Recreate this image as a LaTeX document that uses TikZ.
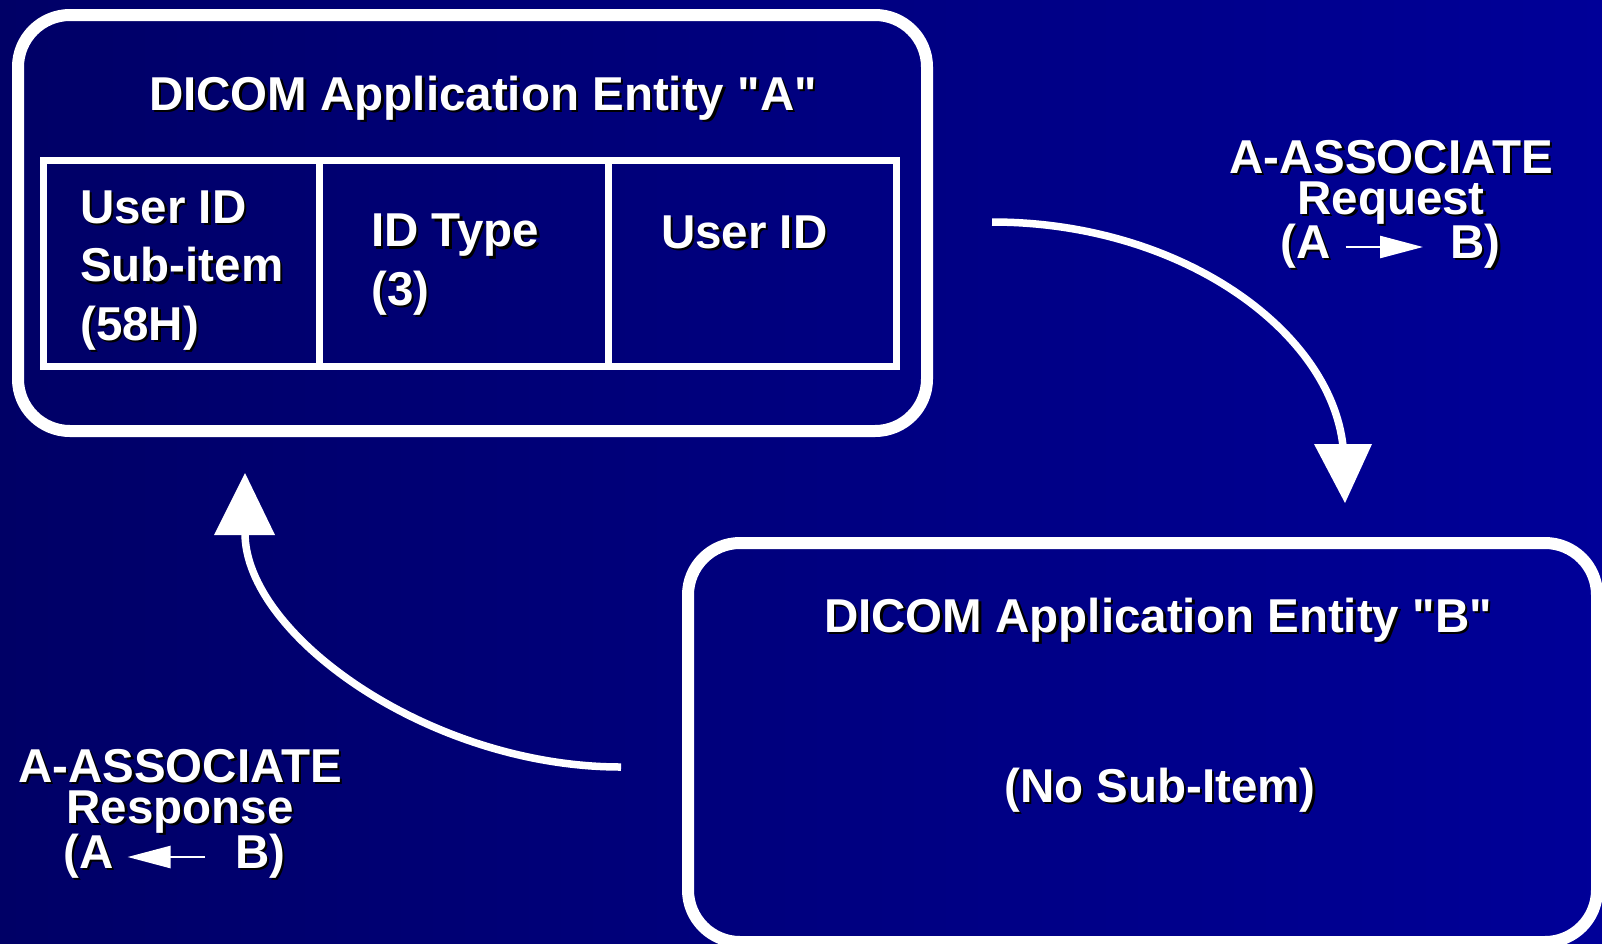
\documentclass[tikz,border=0pt]{standalone}
\usepackage{fontspec}
\setmainfont{Liberation Sans}
\usetikzlibrary{arrows.meta,calc}
\definecolor{bgL}{RGB}{0,0,102}
\definecolor{bgR}{RGB}{0,0,152}
\newcommand\sh[1]{\leavevmode\rlap{\kern2.5pt\raisebox{-2.5pt}{\textcolor{black}{#1}}}#1}
\begin{document}
\begin{tikzpicture}[x=1pt,y=-1pt,
  entity/.style={draw=white, line width=12pt, rounded corners=52pt, inner sep=0pt},
  cell/.style={draw=white, line width=7pt, inner sep=0pt},
  txt/.style={text=white, font=\bfseries\fontsize{47.5}{58.5}\selectfont, inner sep=0pt},
  lbl/.style={text=white, font=\bfseries\fontsize{47.5}{41}\selectfont, inner sep=0pt, align=center},
  conn/.style={draw=white, line width=7.5pt},
  head/.style={fill=white},
  smallarr/.style={draw=white, line width=2.5pt, -{Triangle[length=43pt,width=22pt]}}
]
\useasboundingbox (0,0) rectangle (1602,943);
\shade[left color=bgL, right color=bgR] (0,0) rectangle (1602,943);

% entity boxes
\node[entity, minimum width=909pt, minimum height=416pt] (boxA) at (472.5,223) {};
\node[entity, minimum width=909pt, minimum height=399pt] (boxB) at (1142.5,742.5) {};

% table cells
\node[cell, minimum width=276.5pt, minimum height=206pt] (c1) at (181.25,263.5) {};
\node[cell, minimum width=288.5pt, minimum height=206pt] (c2) at (463.75,263.5) {};
\node[cell, minimum width=288pt, minimum height=206pt] (c3) at (752,263.5) {};

% texts
\node[txt, anchor=base] (tA) at (483,110) {\sh{DICOM Application Entity \textquotedbl A\textquotedbl}};
\node[txt, anchor=base west, align=left] (c1t) at (80,340) {\sh{User ID}\\\sh{Sub-item}\\\sh{(58H)}};
\node[txt, anchor=base west, align=left] (c2t) at (371,305) {\sh{ID Type}\\\sh{(3)}};
\node[txt, anchor=base west] (c3t) at (661,248) {\sh{User ID}};
\node[txt, anchor=base] (tB) at (1158,632) {\sh{DICOM Application Entity \textquotedbl B\textquotedbl}};
\node[txt, anchor=base] (nsub) at (1160,802) {\sh{(No Sub-Item)}};

% request label
\node[lbl, anchor=base] (reqL) at (1391,214) {\sh{A-ASSOCIATE}\\\sh{Request}};
\node[txt, anchor=base west] (reqA) at (1280,258) {\sh{(A}};
\node[txt, anchor=base west] (reqB) at (1450,258) {\sh{B)}};
\draw[smallarr] ($(reqA.base east)+(15,-11)$) -- ($(reqB.base west)+(-27,-11)$);

% response label
\node[lbl, anchor=base] (resL) at (180,823) {\sh{A-ASSOCIATE}\\\sh{Response}};
\node[txt, anchor=base west] (resA) at (63,868) {\sh{(A}};
\node[txt, anchor=base west] (resB) at (235,868) {\sh{B)}};
\draw[smallarr] ($(resB.base west)+(-30,-11)$) -- ($(resA.base east)+(14,-11)$);

% request arrow
\coordinate (reqS) at (992,222);
\coordinate (reqE) at (1343,446);
\draw[conn] (reqS) .. controls (1180,222) and (1330,330) .. (reqE);
\fill[head] (1314,444) -- (1372,444) -- (1345,503) -- cycle;

% response arrow
\coordinate (resS) at (621,767);
\coordinate (resE) at (245,533);
\draw[conn] (resS) .. controls (430,767) and (245,635) .. (resE);
\fill[head] (214,535) -- (275,535) -- (245,473) -- cycle;
\end{tikzpicture}
\end{document}
